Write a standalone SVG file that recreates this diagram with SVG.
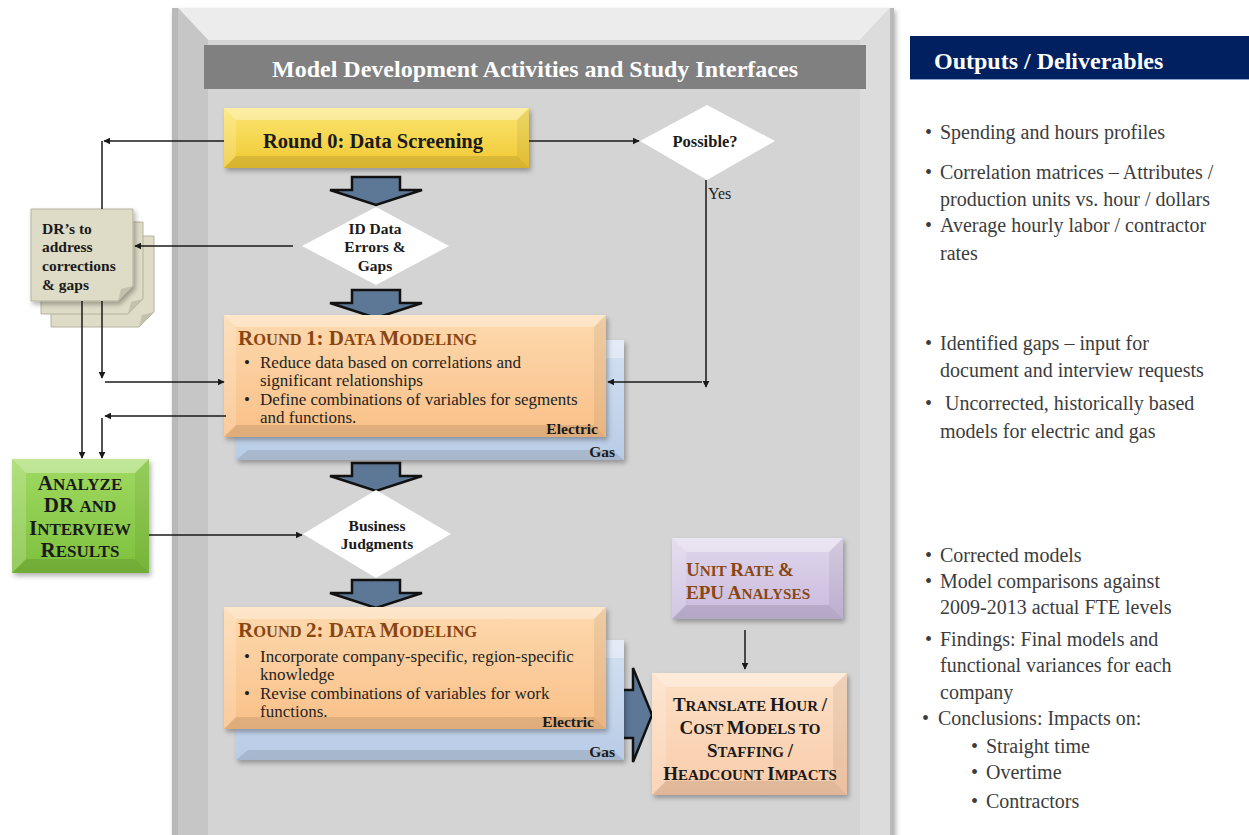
<svg xmlns="http://www.w3.org/2000/svg" width="1249" height="835" viewBox="0 0 1249 835">
<defs>
<style>
text{font-family:"Liberation Serif","Times New Roman",serif}
.b{font-weight:bold}
.ink{fill:#1a1a1a}
.brn{fill:#8a4612}
.body{font-size:17px;fill:#1f1f1f}
.out{font-size:20px;fill:#3c3c3c}
.dt{font-size:15.5px}
.ln{stroke:#1a1a1a;stroke-width:1.5;fill:none}
.bt{fill:#fff;opacity:.35}
.bb{fill:#000;opacity:.10}
.bl{fill:#fff;opacity:.18}
.br{fill:#000;opacity:.06}
.dia{fill:#fff}
.blk{fill:#5d7897;stroke:#111;stroke-width:2.5;stroke-linejoin:miter}
.doc{fill:#dedbc6;stroke:#b5b29f;stroke-width:1}
</style>
<marker id="ah" viewBox="0 0 10 10" refX="9" refY="5" markerWidth="7" markerHeight="7" orient="auto" markerUnits="userSpaceOnUse">
<path d="M0,0 L10,5 L0,10 z" fill="#1a1a1a"/>
</marker>
<linearGradient id="gY" x1="0" y1="0" x2="0" y2="1"><stop offset="0" stop-color="#fbe571"/><stop offset="1" stop-color="#f0c832"/></linearGradient>
<linearGradient id="gO" x1="0" y1="0" x2="0" y2="1"><stop offset="0" stop-color="#fdd9ae"/><stop offset="1" stop-color="#f9c088"/></linearGradient>
<linearGradient id="gB" x1="0" y1="0" x2="0" y2="1"><stop offset="0" stop-color="#d4e1f2"/><stop offset="1" stop-color="#b9cce6"/></linearGradient>
<linearGradient id="gG" x1="0" y1="0" x2="0" y2="1"><stop offset="0" stop-color="#a0da62"/><stop offset="1" stop-color="#7dc03c"/></linearGradient>
<linearGradient id="gP" x1="0" y1="0" x2="0" y2="1"><stop offset="0" stop-color="#e0d7ec"/><stop offset="1" stop-color="#c9badd"/></linearGradient>
<linearGradient id="gT" x1="0" y1="0" x2="0" y2="1"><stop offset="0" stop-color="#fde0c6"/><stop offset="1" stop-color="#f9ccaa"/></linearGradient>
<filter id="sh" x="-10%" y="-10%" width="125%" height="130%"><feDropShadow dx="2" dy="3" stdDeviation="2.5" flood-color="#000" flood-opacity="0.3"/></filter>
<path id="dn" d="M-24,0 H24 V13 H46 L0,28 L-46,13 H-24 Z"/>
</defs>

<!-- main panel -->
<g id="panel">
<rect x="172" y="8" width="722" height="835" fill="#b9b9b9" filter="url(#sh)"/>
<rect x="178" y="8" width="712" height="835" fill="#d4d4d4"/>
<polygon points="178,8 890,8 860,40 208,40" fill="#ececec"/>
<polygon points="178,8 208,40 208,835 178,835" fill="#c6c6c6"/>
<polygon points="890,8 860,40 860,835 890,835" fill="#dcdcdc"/>
<rect x="204" y="45" width="662" height="44" fill="#808080"/>
<text x="535" y="77" text-anchor="middle" class="b" font-size="24" fill="#fff">Model Development Activities and Study Interfaces</text>
</g>

<!-- outputs header -->
<g id="outputs">
<rect x="910" y="36" width="339" height="43" fill="#002060"/>
<line x1="910" y1="79.5" x2="1249" y2="79.5" stroke="#8aa5d0" stroke-width="1"/>
<text x="934" y="69" class="b" font-size="24" fill="#fff">Outputs / Deliverables</text>
<text x="925" y="139" class="out">•</text><text x="940" y="139" class="out">Spending and hours profiles</text>
<text x="925" y="179" class="out">•</text><text x="940" y="179" class="out">Correlation matrices – Attributes /</text>
<text x="940" y="206" class="out">production units vs. hour / dollars</text>
<text x="925" y="232" class="out">•</text><text x="940" y="232" class="out">Average hourly labor / contractor</text>
<text x="940" y="260" class="out">rates</text>
<text x="925" y="350" class="out">•</text><text x="940" y="350" class="out">Identified gaps – input for</text>
<text x="940" y="377" class="out">document  and interview requests</text>
<text x="925" y="410" class="out">•</text><text x="945" y="410" class="out">Uncorrected, historically based</text>
<text x="940" y="438" class="out">models for electric and gas</text>
<text x="925" y="562" class="out">•</text><text x="940" y="562" class="out">Corrected models</text>
<text x="925" y="588" class="out">•</text><text x="940" y="588" class="out">Model comparisons against</text>
<text x="940" y="614" class="out">2009-2013 actual FTE levels</text>
<text x="925" y="646" class="out">•</text><text x="940" y="646" class="out">Findings: Final models and</text>
<text x="940" y="672" class="out">functional variances for each</text>
<text x="940" y="699" class="out">company</text>
<text x="922" y="725" class="out">•</text><text x="938" y="725" class="out">Conclusions: Impacts on:</text>
<text x="971" y="753" class="out">•</text><text x="986" y="753" class="out">Straight time</text>
<text x="971" y="779" class="out">•</text><text x="986" y="779" class="out">Overtime</text>
<text x="971" y="808" class="out">•</text><text x="986" y="808" class="out">Contractors</text>
</g>

<!-- block arrows -->
<g id="blockArrows">
<use href="#dn" x="376" y="177" class="blk"/>
<use href="#dn" x="376" y="290" class="blk"/>
<use href="#dn" x="376" y="463" class="blk"/>
<use href="#dn" x="376" y="580" class="blk"/>
<path d="M617,690 H633 V668 L652,715 L633,762 V738 H617 Z" class="blk"/>
</g>

<!-- Round 0 -->
<g id="round0">
<rect x="224" y="108" width="305" height="60" fill="url(#gY)" filter="url(#sh)"/>
<polygon class="bt" points="224,108 529,108 517,120 236,120"/>
<polygon class="bb" points="224,168 529,168 517,156 236,156"/>
<polygon class="bl" points="224,108 236,120 236,156 224,168"/>
<polygon class="br" points="529,108 517,120 517,156 529,168"/>
<text x="373" y="148" text-anchor="middle" class="b ink" font-size="20.5">Round 0: Data Screening</text>
</g>

<!-- Possible diamond -->
<g id="possible">
<polygon class="dia" points="707,105 775,141 707,180 640,141"/>
<text x="705" y="147" text-anchor="middle" class="b ink" font-size="16.5">Possible?</text>
</g>

<!-- ID Data diamond -->
<g id="idData">
<polygon class="dia" points="376,207 449,246 376,285 302,246"/>
<text x="375" y="234" text-anchor="middle" class="b ink dt">ID Data</text>
<text x="375" y="252" text-anchor="middle" class="b ink dt">Errors &amp;</text>
<text x="375" y="271" text-anchor="middle" class="b ink dt">Gaps</text>
</g>

<!-- DR docs -->
<g id="drDocs">
<path class="doc" d="M51,236 H154 V312 L139,327 H51 Z"/>
<path class="doc" d="M41,222 H143 V299 L128,314 H41 Z"/>
<path class="doc" d="M31,209 H133 V286 L118,301 H31 Z" filter="url(#sh)"/>
<path d="M133,286 L118,301 L121,289 Z" fill="#c3c0ad"/>
<path d="M143,299 L128,314 L131,302 Z" fill="#c3c0ad"/>
<path d="M154,312 L139,327 L142,315 Z" fill="#c3c0ad"/>
<text x="42" y="234" class="b ink dt">DR’s to</text>
<text x="42" y="252" class="b ink dt">address</text>
<text x="42" y="271" class="b ink dt">corrections</text>
<text x="42" y="290" class="b ink dt">&amp; gaps</text>
</g>

<!-- Round 1 -->
<g id="round1">
<rect x="236" y="340" width="388" height="120" fill="url(#gB)" filter="url(#sh)"/>
<polygon class="bt" points="606,340 624,340 624,358 606,358"/>
<polygon class="bb" points="236,460 624,460 612,450 248,450"/>
<text x="615" y="457" text-anchor="end" class="b ink" font-size="15.5">Gas</text>
<rect x="224" y="315" width="382" height="122" fill="url(#gO)" filter="url(#sh)"/>
<polygon class="bt" points="224,315 606,315 594,327 236,327"/>
<polygon class="bb" points="224,437 606,437 594,425 236,425"/>
<polygon class="bl" points="224,315 236,327 236,425 224,437"/>
<polygon class="br" points="606,315 594,327 594,425 606,437"/>
<text x="238" y="345" class="b brn"><tspan font-size="21">R</tspan><tspan font-size="16.5">OUND </tspan><tspan font-size="21">1: D</tspan><tspan font-size="16.5">ATA </tspan><tspan font-size="21">M</tspan><tspan font-size="16.5">ODELING</tspan></text>
<text x="244" y="368" class="body">•</text><text x="260" y="368" class="body">Reduce data based on correlations and</text>
<text x="260" y="386" class="body">significant relationships</text>
<text x="244" y="405" class="body">•</text><text x="260" y="405" class="body">Define combinations of variables for segments</text>
<text x="260" y="423" class="body">and functions.</text>
<text x="598" y="434" text-anchor="end" class="b ink" font-size="15.5">Electric</text>
</g>

<!-- Business Judgments -->
<g id="business">
<polygon class="dia" points="376,490 451,534 376,578 303,534"/>
<text x="377" y="531" text-anchor="middle" class="b ink dt">Business</text>
<text x="377" y="549" text-anchor="middle" class="b ink dt">Judgments</text>
</g>

<!-- Analyze -->
<g id="analyze">
<rect x="12" y="459" width="137" height="114" fill="url(#gG)" filter="url(#sh)"/>
<polygon class="bt" points="12,459 149,459 135,473 26,473"/>
<polygon class="bb" points="12,573 149,573 135,559 26,559"/>
<polygon class="bl" points="12,459 26,473 26,559 12,573"/>
<polygon class="br" points="149,459 135,473 135,559 149,573"/>
<g class="b ink" text-anchor="middle">
<text x="80" y="490"><tspan font-size="21">A</tspan><tspan font-size="17">NALYZE</tspan></text>
<text x="80" y="512"><tspan font-size="21">DR </tspan><tspan font-size="17">AND</tspan></text>
<text x="80" y="535"><tspan font-size="21">I</tspan><tspan font-size="17">NTERVIEW</tspan></text>
<text x="80" y="557"><tspan font-size="21">R</tspan><tspan font-size="17">ESULTS</tspan></text>
</g>
</g>

<!-- Round 2 -->
<g id="round2">
<rect x="236" y="640" width="388" height="120" fill="url(#gB)" filter="url(#sh)"/>
<polygon class="bt" points="606,640 624,640 624,658 606,658"/>
<polygon class="bb" points="236,760 624,760 612,750 248,750"/>
<text x="615" y="757" text-anchor="end" class="b ink" font-size="15.5">Gas</text>
<rect x="224" y="607" width="382" height="122" fill="url(#gO)" filter="url(#sh)"/>
<polygon class="bt" points="224,607 606,607 594,619 236,619"/>
<polygon class="bb" points="224,729 606,729 594,717 236,717"/>
<polygon class="bl" points="224,607 236,619 236,717 224,729"/>
<polygon class="br" points="606,607 594,619 594,717 606,729"/>
<text x="238" y="637" class="b brn"><tspan font-size="21">R</tspan><tspan font-size="16.5">OUND </tspan><tspan font-size="21">2: D</tspan><tspan font-size="16.5">ATA </tspan><tspan font-size="21">M</tspan><tspan font-size="16.5">ODELING</tspan></text>
<text x="244" y="662" class="body">•</text><text x="260" y="662" class="body">Incorporate  company-specific,  region-specific</text>
<text x="260" y="680" class="body">knowledge</text>
<text x="244" y="699" class="body">•</text><text x="260" y="699" class="body">Revise combinations of variables  for work</text>
<text x="260" y="717" class="body">functions.</text>
<text x="594" y="727" text-anchor="end" class="b ink" font-size="15.5">Electric</text>
</g>

<!-- Unit Rate -->
<g id="unitRate">
<rect x="672" y="538" width="171" height="81" fill="url(#gP)" filter="url(#sh)"/>
<polygon class="bt" points="672,538 843,538 829,552 686,552"/>
<polygon class="bb" points="672,619 843,619 829,605 686,605"/>
<polygon class="bl" points="672,538 686,552 686,605 672,619"/>
<polygon class="br" points="843,538 829,552 829,605 843,619"/>
<text x="686" y="576" class="b brn"><tspan font-size="19">U</tspan><tspan font-size="15.2">NIT </tspan><tspan font-size="19">R</tspan><tspan font-size="15.2">ATE </tspan><tspan font-size="19">&amp;</tspan></text>
<text x="686" y="599" class="b brn"><tspan font-size="19">EPU A</tspan><tspan font-size="15.2">NALYSES</tspan></text>
</g>

<!-- Translate -->
<g id="translate">
<rect x="652" y="673" width="195" height="122" fill="url(#gT)" filter="url(#sh)"/>
<polygon class="bt" points="652,673 847,673 833,687 666,687"/>
<polygon class="bb" points="652,795 847,795 833,781 666,781"/>
<polygon class="bl" points="652,673 666,687 666,781 652,795"/>
<polygon class="br" points="847,673 833,687 833,781 847,795"/>
<g class="b ink" text-anchor="middle">
<text x="750" y="711"><tspan font-size="19">T</tspan><tspan font-size="15">RANSLATE  </tspan><tspan font-size="19">H</tspan><tspan font-size="15">OUR </tspan><tspan font-size="19">/</tspan></text>
<text x="750" y="734"><tspan font-size="19">C</tspan><tspan font-size="15">OST </tspan><tspan font-size="19">M</tspan><tspan font-size="15">ODELS TO</tspan></text>
<text x="750" y="757"><tspan font-size="19">S</tspan><tspan font-size="15">TAFFING </tspan><tspan font-size="19">/</tspan></text>
<text x="750" y="780"><tspan font-size="19">H</tspan><tspan font-size="15">EADCOUNT </tspan><tspan font-size="19">I</tspan><tspan font-size="15">MPACTS</tspan></text>
</g>
</g>

<!-- connectors -->
<g id="connectors">
<polyline points="224,141 104,141" class="ln" marker-end="url(#ah)"/>
<line x1="102" y1="141" x2="102" y2="209" class="ln"/>
<line x1="529" y1="141" x2="639" y2="141" class="ln" marker-end="url(#ah)"/>
<line x1="706" y1="180" x2="706" y2="387" class="ln" marker-end="url(#ah)"/>
<line x1="702" y1="382" x2="608" y2="382" class="ln" marker-end="url(#ah)"/>
<line x1="293" y1="246" x2="135" y2="246" class="ln" marker-end="url(#ah)"/>
<line x1="82" y1="301" x2="82" y2="458" class="ln" marker-end="url(#ah)"/>
<line x1="102" y1="301" x2="102" y2="378" class="ln" marker-end="url(#ah)"/>
<line x1="105" y1="382" x2="224" y2="382" class="ln" marker-end="url(#ah)"/>
<line x1="226" y1="416" x2="105" y2="416" class="ln" marker-end="url(#ah)"/>
<line x1="102" y1="418" x2="102" y2="458" class="ln" marker-end="url(#ah)"/>
<line x1="149" y1="535" x2="302" y2="535" class="ln" marker-end="url(#ah)"/>
<line x1="745" y1="630" x2="745" y2="669" class="ln" marker-end="url(#ah)"/>
<text x="708" y="199" font-size="16" fill="#222">Yes</text>
</g>
</svg>
